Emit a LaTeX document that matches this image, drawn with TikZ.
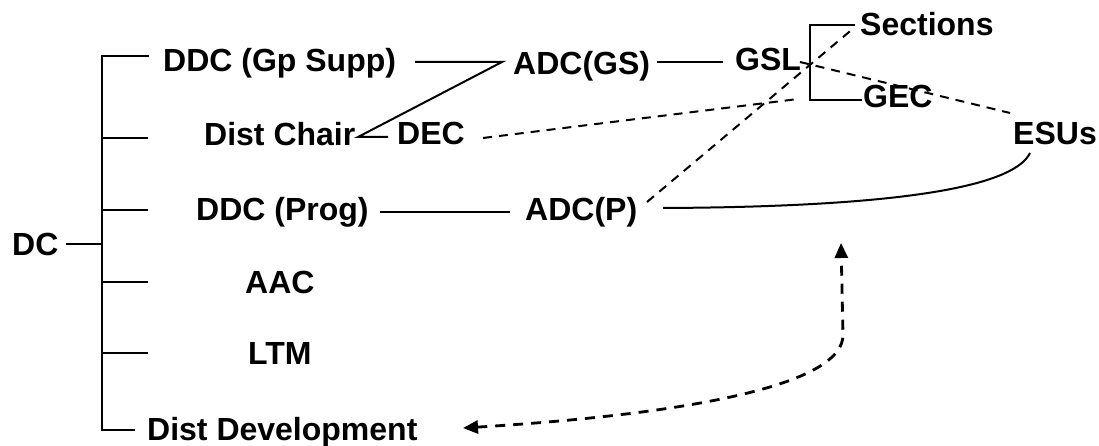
\documentclass[tikz,border=0pt]{standalone}
\usepackage{fontspec}
\setmainfont{Liberation Sans}
\usetikzlibrary{arrows.meta}
\begin{document}
\begin{tikzpicture}[x=1pt,y=-1pt,
  lbl/.style={inner sep=0pt, anchor=west, text height=23pt, text depth=0pt, font=\fontsize{32}{38}\selectfont\bfseries},
  ln/.style={line width=2pt},
  dsh/.style={line width=2pt, dash pattern=on 9pt off 7pt},
  darr/.style={line width=2.8pt, dash pattern=on 10pt off 8pt,
    {Triangle[length=15pt,width=13pt]}-{Triangle[length=15pt,width=13pt]}}]
\useasboundingbox (0,0) rectangle (1099,446);

% labels
\node[lbl] (dc) at (12,244) {DC};
\node[lbl] (ddcgs) at (163,60) {DDC (Gp Supp)};
\node[lbl] (chair) at (204,134) {Dist Chair};
\node[lbl] (dec) at (397,133) {DEC};
\node[lbl] (ddcp) at (196,209) {DDC (Prog)};
\node[lbl] (aac) at (245,282) {AAC};
\node[lbl] (ltm) at (248,353) {LTM};
\node[lbl] (dev) at (147,429) {Dist Development};
\node[lbl] (adcgs) at (513,63) {ADC(GS)};
\node[lbl] (gsl) at (735,59) {GSL};
\node[lbl] (sec) at (860,24) {Sections};
\node[lbl] (gec) at (863,96) {GEC};
\node[lbl] (esu) at (1013,133) {ESUs};
\node[lbl] (adcp) at (525,209) {ADC(P)};

% spine coordinates
\coordinate (sptop) at (102,56);
\coordinate (spbot) at (102,430);
\coordinate (spdc) at (102,244);
\coordinate (t1) at (149,56);
\coordinate (t2) at (148,138);
\coordinate (t3) at (148,210);
\coordinate (t4) at (148,282);
\coordinate (t5) at (148,353);
\coordinate (t6) at (135,430);

\draw[ln] ([xshift=7pt]dc.east) -- (spdc);
\draw[ln] (t1) -- (sptop) -- (spbot) -- (t6);
\foreach \t in {t2,t3,t4,t5} \draw[ln] (\t -| sptop) -- (\t);

% solid connectors
\coordinate (g1) at (415,62);
\coordinate (j1) at (502,62);
\coordinate (j2) at (358,137);
\coordinate (dcd) at (388,137);
\draw[ln] (g1) -- (j1) -- (j2) -- (dcd);
\coordinate (a1) at (657,62);
\coordinate (a2) at (723,62);
\draw[ln] (a1) -- (a2);
\coordinate (b1) at (855,25);
\coordinate (b2) at (810,25);
\coordinate (b3) at (810,100);
\coordinate (b4) at (862,100);
\draw[ln] (b1) -- (b2) -- (b3) -- (b4);
\coordinate (p1) at (380,212);
\coordinate (p2) at (510,212);
\draw[ln] (p1) -- (p2);
\coordinate (c1) at (663,208);
\coordinate (c2) at (1030,153);
\draw[ln] (c1) .. controls (880,207) and (1012,190) .. (c2);

% dashed connectors
\coordinate (d1) at (483,138);
\coordinate (d2) at (798,99);
\draw[dsh] (d1) -- (d2);
\coordinate (e1) at (647,202);
\coordinate (e2) at (855,27);
\draw[dsh] (e1) -- (e2);
\coordinate (f1) at (800,62);
\coordinate (f2) at (1010,113);
\draw[dsh] (f1) -- (f2);

% dashed double arrow
\coordinate (h1) at (463,428);
\coordinate (h2) at (843,335);
\coordinate (h3) at (841,243);
\draw[darr] (h1) .. controls (690,414) and (843,385) .. (h2) -- (h3);
\end{tikzpicture}
\end{document}
